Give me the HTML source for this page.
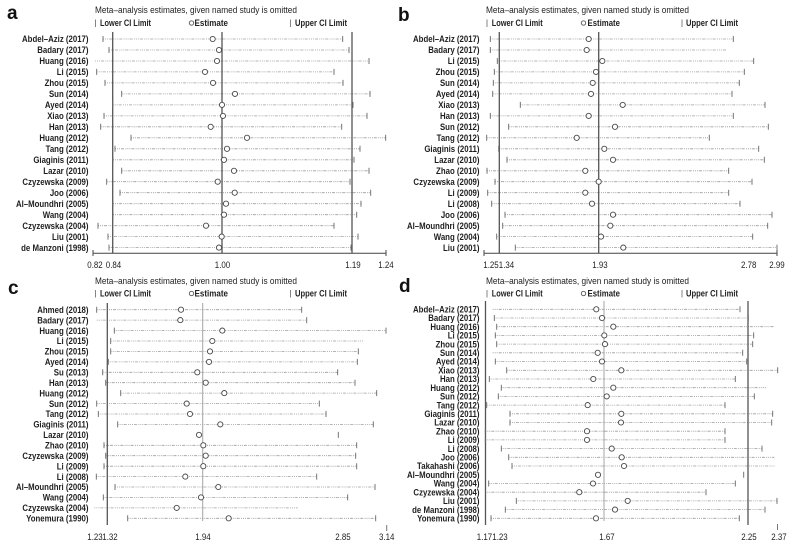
<!DOCTYPE html>
<html><head><meta charset="utf-8"><style>
html,body{margin:0;padding:0;background:#fff}
svg{display:block}
.lab{font-family:"Liberation Sans",sans-serif;font-weight:bold;font-size:9px;fill:#1e1e1e}
.hd{font-family:"Liberation Sans",sans-serif;font-size:9.5px;fill:#222}
.lg{font-family:"Liberation Sans",sans-serif;font-weight:bold;font-size:9px;fill:#222}
.tl{font-family:"Liberation Sans",sans-serif;font-size:9px;fill:#222}
.pl{font-family:"Liberation Sans",sans-serif;font-weight:bold;font-size:19px;fill:#111}
.dt{stroke:#9c9c9c;stroke-width:.8;stroke-dasharray:1 1 1 1 1 1 3 1.3;fill:none}
.tk{stroke:#666;stroke-width:.9;fill:none}
.ci{fill:#fff;stroke:#474747;stroke-width:.9}
.ref{stroke:#555;stroke-width:1.3}
.refl{stroke:#a4a4a4;stroke-width:1}
.ax{stroke:#444;stroke-width:1;fill:none}
</style></head><body>
<svg width="792" height="544" viewBox="0 0 792 544" xmlns="http://www.w3.org/2000/svg">
<rect width="792" height="544" fill="#fff"/>

<!-- ===== Panel letters ===== -->
<text class="pl" x="7" y="19">a</text>
<text class="pl" x="398" y="21">b</text>
<text class="pl" x="8" y="294">c</text>
<text class="pl" x="399" y="292">d</text>

<!-- ===== Headers & legends ===== -->
<text class="hd" x="95" y="12.8" textLength="202" lengthAdjust="spacingAndGlyphs">Meta–analysis estimates, given named study is omitted</text>
<text class="hd" x="486" y="13" textLength="203" lengthAdjust="spacingAndGlyphs">Meta–analysis estimates, given named study is omitted</text>
<text class="hd" x="95" y="284" textLength="202" lengthAdjust="spacingAndGlyphs">Meta–analysis estimates, given named study is omitted</text>
<text class="hd" x="486" y="284" textLength="203" lengthAdjust="spacingAndGlyphs">Meta–analysis estimates, given named study is omitted</text>

<g class="tk" style="stroke:#777">
<path d="M95.5 19.5V27M290.5 19.5V27M487 19.5V27M682 19.5V27M95.5 290V297.5M290.5 290V297.5M487 290V297.5M682 290V297.5"/>
</g>
<g class="ci" style="stroke:#555">
<circle cx="191.5" cy="23" r="2.2"/><circle cx="583.5" cy="23" r="2.2"/>
<circle cx="191.5" cy="293.5" r="2.2"/><circle cx="583.5" cy="293.5" r="2.2"/>
</g>
<g class="lg">
<text x="100" y="26.2" textLength="51" lengthAdjust="spacingAndGlyphs">Lower CI Limit</text>
<text x="194.5" y="26.2" textLength="33.5" lengthAdjust="spacingAndGlyphs">Estimate</text>
<text x="295" y="26.2" textLength="52" lengthAdjust="spacingAndGlyphs">Upper CI Limit</text>
<text x="491.7" y="26.2" textLength="51" lengthAdjust="spacingAndGlyphs">Lower CI Limit</text>
<text x="587.5" y="26.2" textLength="32.5" lengthAdjust="spacingAndGlyphs">Estimate</text>
<text x="686" y="26.2" textLength="52" lengthAdjust="spacingAndGlyphs">Upper CI Limit</text>
<text x="100" y="296.7" textLength="51" lengthAdjust="spacingAndGlyphs">Lower CI Limit</text>
<text x="194.5" y="296.7" textLength="33.5" lengthAdjust="spacingAndGlyphs">Estimate</text>
<text x="295" y="296.7" textLength="52" lengthAdjust="spacingAndGlyphs">Upper CI Limit</text>
<text x="491.7" y="296.7" textLength="51" lengthAdjust="spacingAndGlyphs">Lower CI Limit</text>
<text x="587.5" y="296.7" textLength="32.5" lengthAdjust="spacingAndGlyphs">Estimate</text>
<text x="686" y="296.7" textLength="52" lengthAdjust="spacingAndGlyphs">Upper CI Limit</text>
</g>

<!-- ===== Row labels ===== -->
<g class="lab" text-anchor="end" transform="translate(88.5 0) scale(.87 1)">
<text y="42.2">Abdel–Aziz (2017)</text>
<text y="53.2">Badary (2017)</text>
<text y="64.2">Huang (2016)</text>
<text y="75.1">Li (2015)</text>
<text y="86.1">Zhou (2015)</text>
<text y="97.1">Sun (2014)</text>
<text y="108.1">Ayed (2014)</text>
<text y="119.1">Xiao (2013)</text>
<text y="130">Han (2013)</text>
<text y="141">Huang (2012)</text>
<text y="152">Tang (2012)</text>
<text y="163">Giaginis (2011)</text>
<text y="174">Lazar (2010)</text>
<text y="184.9">Czyzewska (2009)</text>
<text y="195.9">Joo (2006)</text>
<text y="206.9">Al–Moundhri (2005)</text>
<text y="217.9">Wang (2004)</text>
<text y="228.9">Czyzewska (2004)</text>
<text y="239.8">Liu (2001)</text>
<text y="250.8">de Manzoni (1998)</text>
</g>
<g class="lab" text-anchor="end" transform="translate(479.5 0) scale(.87 1)">
<text y="42.2">Abdel–Aziz (2017)</text>
<text y="53.2">Badary (2017)</text>
<text y="64.2">Li (2015)</text>
<text y="75.1">Zhou (2015)</text>
<text y="86.1">Sun (2014)</text>
<text y="97.1">Ayed (2014)</text>
<text y="108.1">Xiao (2013)</text>
<text y="119.1">Han (2013)</text>
<text y="130">Sun (2012)</text>
<text y="141">Tang (2012)</text>
<text y="152">Giaginis (2011)</text>
<text y="163">Lazar (2010)</text>
<text y="174">Zhao (2010)</text>
<text y="184.9">Czyzewska (2009)</text>
<text y="195.9">Li (2009)</text>
<text y="206.9">Li (2008)</text>
<text y="217.9">Joo (2006)</text>
<text y="228.9">Al–Moundhri (2005)</text>
<text y="239.8">Wang (2004)</text>
<text y="250.8">Liu (2001)</text>
</g>
<g class="lab" text-anchor="end" transform="translate(88.5 0) scale(.87 1)">
<text y="312.9">Ahmed (2018)</text>
<text y="323.3">Badary (2017)</text>
<text y="333.8">Huang (2016)</text>
<text y="344.2">Li (2015)</text>
<text y="354.6">Zhou (2015)</text>
<text y="365.1">Ayed (2014)</text>
<text y="375.5">Su (2013)</text>
<text y="385.9">Han (2013)</text>
<text y="396.3">Huang (2012)</text>
<text y="406.8">Sun (2012)</text>
<text y="417.2">Tang (2012)</text>
<text y="427.6">Giaginis (2011)</text>
<text y="438.1">Lazar (2010)</text>
<text y="448.5">Zhao (2010)</text>
<text y="458.9">Czyzewska (2009)</text>
<text y="469.4">Li (2009)</text>
<text y="479.8">Li (2008)</text>
<text y="490.2">Al–Moundhri (2005)</text>
<text y="500.6">Wang (2004)</text>
<text y="511.1">Czyzewska (2004)</text>
<text y="521.5">Yonemura (1990)</text>
</g>
<g class="lab" text-anchor="end" transform="translate(479.5 0) scale(.87 1)">
<text y="312.5">Abdel–Aziz (2017)</text>
<text y="321.2">Badary (2017)</text>
<text y="329.9">Huang (2016)</text>
<text y="338.6">Li (2015)</text>
<text y="347.3">Zhou (2015)</text>
<text y="356">Sun (2014)</text>
<text y="364.7">Ayed (2014)</text>
<text y="373.5">Xiao (2013)</text>
<text y="382.2">Han (2013)</text>
<text y="390.9">Huang (2012)</text>
<text y="399.6">Sun (2012)</text>
<text y="408.3">Tang (2012)</text>
<text y="417">Giaginis (2011)</text>
<text y="425.7">Lazar (2010)</text>
<text y="434.4">Zhao (2010)</text>
<text y="443.1">Li (2009)</text>
<text y="451.8">Li (2008)</text>
<text y="460.5">Joo (2006)</text>
<text y="469.2">Takahashi (2006)</text>
<text y="478">Al–Moundhri (2005)</text>
<text y="486.7">Wang (2004)</text>
<text y="495.4">Czyzewska (2004)</text>
<text y="504.1">Liu (2001)</text>
<text y="512.8">de Manzoni (1998)</text>
<text y="521.5">Yonemura (1990)</text>
</g>

<!-- ===== Dotted CI lines ===== -->
<path class="dt" d="M103 39H342.7M109 50H349M95 61H369M96.7 71.9H334M105 82.9H343M121.7 93.9H370M112.7 104.9H353M104 115.9H367M100.7 126.8H341.7M131 137.8H385.7M115 148.8H360M113 159.8H354M121.7 170.8H369M106.7 181.7H350M120 192.7H370.7M113 203.7H361M113 214.7H356.7M98 225.7H334M108 236.6H358M109 247.6H351"/>
<path class="dt" d="M490.3 39H733.3M490.3 50H726M497.3 61H753.7M494.3 71.9H744.3M493.3 82.9H739.3M492.7 93.9H732M520.3 104.9H765M490.3 115.9H733.3M508.7 126.8H768.3M486.7 137.8H709.3M498.7 148.8H758.7M507 159.8H764.3M487 170.8H728.7M495 181.7H752M487.7 192.7H728.7M491.7 203.7H740M505 214.7H772M502.7 225.7H767.7M496.7 236.6H752.7M515.3 247.6H777"/>
<path class="dt" d="M96.7 309.7H301.7M96.7 320.1H306.7M114.3 330.6H386M110.7 341H364M110.7 351.4H358.3M108.3 361.9H357.3M102.7 372.3H337.7M105.7 382.7H355M120.7 393.1H376.7M96.7 403.6H319.3M98.3 414H326M117.7 424.4H373.3M104 445.3H356.7M105.7 455.7H355.7M104 466.2H356.7M96.3 476.6H316.7M115 487H375M103.3 497.4H347.7M94.3 507.9H297.7M127.7 518.3H375.7"/>
<path class="dt" d="M492.7 309.3H740M494.3 318H748.3M496.7 326.7H774.3M495.3 335.4H753.7M496.7 344.1H752.7M492.7 352.8H742.7M495.3 361.5H746.7M506.7 370.3H777.7M489.3 379H735.3M501.3 387.7H766M498.3 396.4H754.3M486.7 405.1H725M510 413.8H772.7M510 422.5H771.7M485.3 431.2H725M485.3 439.9H725M501.3 448.6H762M508.7 457.3H774.3M512 466H775.3M488.7 483.5H735.3M485.3 492.2H706M516.3 500.9H777M505.3 509.6H765M491 518.3H739.3"/>

<!-- ===== Reference vertical lines ===== -->
<path class="ref" d="M112.7 32V253.3M222 32V253.3M352 32V253.3"/>
<path class="ref" d="M499.3 32V253.3M598.7 32V253.3"/>
<path class="ref" d="M107.3 303V525"/>
<path class="refl" d="M202.7 303V521"/>
<path class="ref" d="M485.5 301V525M748 301V525"/>
<path class="refl" d="M604 301V521"/>

<!-- ===== Axes ===== -->
<path class="ax" d="M93 253.3H386M93 250V256M386 250V256"/>
<path class="ax" d="M484 253.3H777M484 250V256M777 250V256"/>
<path class="ax" style="stroke:#777" d="M386.7 525V531M777.5 524V530"/>

<!-- ===== CI ticks ===== -->
<path class="tk" d="M103 36v6M342.7 36v6M109 47v6M349 47v6M369 58v6M96.7 68.9v6M334 68.9v6M105 79.9v6M343 79.9v6M121.7 90.9v6M370 90.9v6M112.7 101.9v6M353 101.9v6M104 112.9v6M367 112.9v6M100.7 123.8v6M341.7 123.8v6M131 134.8v6M385.7 134.8v6M115 145.8v6M360 145.8v6M113 156.8v6M354 156.8v6M121.7 167.8v6M369 167.8v6M106.7 178.7v6M350 178.7v6M120 189.7v6M370.7 189.7v6M113 200.7v6M361 200.7v6M113 211.7v6M356.7 211.7v6M98 222.7v6M334 222.7v6M108 233.6v6M358 233.6v6M109 244.6v6M351 244.6v6"/>
<path class="tk" d="M490.3 36v6M733.3 36v6M490.3 47v6M497.3 58v6M753.7 58v6M494.3 68.9v6M744.3 68.9v6M493.3 79.9v6M739.3 79.9v6M492.7 90.9v6M732 90.9v6M520.3 101.9v6M765 101.9v6M490.3 112.9v6M733.3 112.9v6M508.7 123.8v6M768.3 123.8v6M486.7 134.8v6M709.3 134.8v6M498.7 145.8v6M758.7 145.8v6M507 156.8v6M764.3 156.8v6M487 167.8v6M728.7 167.8v6M495 178.7v6M752 178.7v6M487.7 189.7v6M728.7 189.7v6M491.7 200.7v6M740 200.7v6M505 211.7v6M772 211.7v6M502.7 222.7v6M767.7 222.7v6M496.7 233.6v6M752.7 233.6v6M515.3 244.6v6M777 244.6v6"/>
<path class="tk" d="M96.7 306.7v6M301.7 306.7v6M306.7 317.1v6M114.3 327.6v6M386 327.6v6M110.7 338v6M110.7 348.4v6M358.3 348.4v6M108.3 358.9v6M357.3 358.9v6M102.7 369.3v6M337.7 369.3v6M105.7 379.7v6M355 379.7v6M120.7 390.1v6M376.7 390.1v6M96.7 400.6v6M319.3 400.6v6M98.3 411v6M326 411v6M117.7 421.4v6M373.3 421.4v6M338.3 431.9v6M104 442.3v6M356.7 442.3v6M105.7 452.7v6M355.7 452.7v6M104 463.2v6M356.7 463.2v6M96.3 473.6v6M316.7 473.6v6M115 484v6M375 484v6M103.3 494.4v6M347.7 494.4v6M127.7 515.3v6M375.7 515.3v6"/>
<path class="tk" d="M740 306.3v6M494.3 315v6M748.3 315v6M496.7 323.7v6M495.3 332.4v6M753.7 332.4v6M496.7 341.1v6M752.7 341.1v6M742.7 349.8v6M495.3 358.5v6M746.7 358.5v6M506.7 367.3v6M777.7 367.3v6M489.3 376v6M735.3 376v6M501.3 384.7v6M498.3 393.4v6M754.3 393.4v6M486.7 402.1v6M725 402.1v6M510 410.8v6M772.7 410.8v6M510 419.5v6M771.7 419.5v6M485.3 428.2v6M725 428.2v6M485.3 436.9v6M725 436.9v6M501.3 445.6v6M762 445.6v6M508.7 454.3v6M512 463v6M743.7 471.8v6M488.7 480.5v6M735.3 480.5v6M706 489.2v6M516.3 497.9v6M777 497.9v6M505.3 506.6v6M765 506.6v6M491 515.3v6M739.3 515.3v6"/>

<!-- ===== Estimates ===== -->
<g class="ci">
<circle cx="212.7" cy="39" r="2.6"/><circle cx="219" cy="50" r="2.6"/><circle cx="217" cy="61" r="2.6"/><circle cx="205" cy="71.9" r="2.6"/><circle cx="213" cy="82.9" r="2.6"/><circle cx="235" cy="93.9" r="2.6"/><circle cx="222" cy="104.9" r="2.6"/><circle cx="223" cy="115.9" r="2.6"/><circle cx="210.7" cy="126.8" r="2.6"/><circle cx="247" cy="137.8" r="2.6"/><circle cx="227" cy="148.8" r="2.6"/><circle cx="224" cy="159.8" r="2.6"/><circle cx="234" cy="170.8" r="2.6"/><circle cx="217.7" cy="181.7" r="2.6"/><circle cx="234.7" cy="192.7" r="2.6"/><circle cx="226" cy="203.7" r="2.6"/><circle cx="224" cy="214.7" r="2.6"/><circle cx="206" cy="225.7" r="2.6"/><circle cx="221.7" cy="236.6" r="2.6"/><circle cx="219" cy="247.6" r="2.6"/>

<circle cx="588.7" cy="39" r="2.6"/><circle cx="586.7" cy="50" r="2.6"/><circle cx="602.3" cy="61" r="2.6"/><circle cx="596" cy="71.9" r="2.6"/><circle cx="592.7" cy="82.9" r="2.6"/><circle cx="591" cy="93.9" r="2.6"/><circle cx="622.7" cy="104.9" r="2.6"/><circle cx="588.7" cy="115.9" r="2.6"/><circle cx="615" cy="126.8" r="2.6"/><circle cx="576.7" cy="137.8" r="2.6"/><circle cx="604.3" cy="148.8" r="2.6"/><circle cx="613" cy="159.8" r="2.6"/><circle cx="585.3" cy="170.8" r="2.6"/><circle cx="598.7" cy="181.7" r="2.6"/><circle cx="585.3" cy="192.7" r="2.6"/><circle cx="592" cy="203.7" r="2.6"/><circle cx="613" cy="214.7" r="2.6"/><circle cx="610.3" cy="225.7" r="2.6"/><circle cx="601" cy="236.6" r="2.6"/><circle cx="623.3" cy="247.6" r="2.6"/>

<circle cx="181" cy="309.7" r="2.6"/><circle cx="180.3" cy="320.1" r="2.6"/><circle cx="222.3" cy="330.6" r="2.6"/><circle cx="212.3" cy="341" r="2.6"/><circle cx="210" cy="351.4" r="2.6"/><circle cx="209" cy="361.9" r="2.6"/><circle cx="197.3" cy="372.3" r="2.6"/><circle cx="205.7" cy="382.7" r="2.6"/><circle cx="224.3" cy="393.1" r="2.6"/><circle cx="186.7" cy="403.6" r="2.6"/><circle cx="190" cy="414" r="2.6"/><circle cx="220.3" cy="424.4" r="2.6"/><circle cx="199" cy="434.9" r="2.6"/><circle cx="203.3" cy="445.3" r="2.6"/><circle cx="205.7" cy="455.7" r="2.6"/><circle cx="203.3" cy="466.2" r="2.6"/><circle cx="185.3" cy="476.6" r="2.6"/><circle cx="218.3" cy="487" r="2.6"/><circle cx="201" cy="497.4" r="2.6"/><circle cx="176.7" cy="507.9" r="2.6"/><circle cx="228.7" cy="518.3" r="2.6"/>

<circle cx="596.3" cy="309.3" r="2.6"/><circle cx="602" cy="318" r="2.6"/><circle cx="613.3" cy="326.7" r="2.6"/><circle cx="604.3" cy="335.4" r="2.6"/><circle cx="605" cy="344.1" r="2.6"/><circle cx="597.7" cy="352.8" r="2.6"/><circle cx="602" cy="361.5" r="2.6"/><circle cx="621.3" cy="370.3" r="2.6"/><circle cx="593.3" cy="379" r="2.6"/><circle cx="613.3" cy="387.7" r="2.6"/><circle cx="606.7" cy="396.4" r="2.6"/><circle cx="587.7" cy="405.1" r="2.6"/><circle cx="621.3" cy="413.8" r="2.6"/><circle cx="621" cy="422.5" r="2.6"/><circle cx="587" cy="431.2" r="2.6"/><circle cx="587" cy="439.9" r="2.6"/><circle cx="611.7" cy="448.6" r="2.6"/><circle cx="621.7" cy="457.3" r="2.6"/><circle cx="624" cy="466" r="2.6"/><circle cx="598" cy="474.8" r="2.6"/><circle cx="593" cy="483.5" r="2.6"/><circle cx="579.3" cy="492.2" r="2.6"/><circle cx="627.7" cy="500.9" r="2.6"/><circle cx="615" cy="509.6" r="2.6"/><circle cx="596" cy="518.3" r="2.6"/>
</g>

<!-- ===== Tick labels ===== -->
<g class="tl" text-anchor="middle">
<text transform="translate(95 268) scale(.88 1)">0.82</text>
<text transform="translate(113.5 268) scale(.88 1)">0.84</text>
<text transform="translate(222.5 268) scale(.88 1)">1.00</text>
<text transform="translate(353 268) scale(.88 1)">1.19</text>
<text transform="translate(386 268) scale(.88 1)">1.24</text>

<text transform="translate(491 268) scale(.88 1)">1.25</text>
<text transform="translate(506.5 268) scale(.88 1)">1.34</text>
<text transform="translate(600 268) scale(.88 1)">1.93</text>
<text transform="translate(748.7 268) scale(.88 1)">2.78</text>
<text transform="translate(777 268) scale(.88 1)">2.99</text>

<text transform="translate(95 540) scale(.88 1)">1.23</text>
<text transform="translate(110 540) scale(.88 1)">1.32</text>
<text transform="translate(203 540) scale(.88 1)">1.94</text>
<text transform="translate(343 540) scale(.88 1)">2.85</text>
<text transform="translate(386.7 540) scale(.88 1)">3.14</text>

<text transform="translate(484.5 540) scale(.88 1)">1.17</text>
<text transform="translate(500 540) scale(.88 1)">1.23</text>
<text transform="translate(607 540) scale(.88 1)">1.67</text>
<text transform="translate(749 540) scale(.88 1)">2.25</text>
<text transform="translate(779 540) scale(.88 1)">2.37</text>
</g>
</svg>
</body></html>
